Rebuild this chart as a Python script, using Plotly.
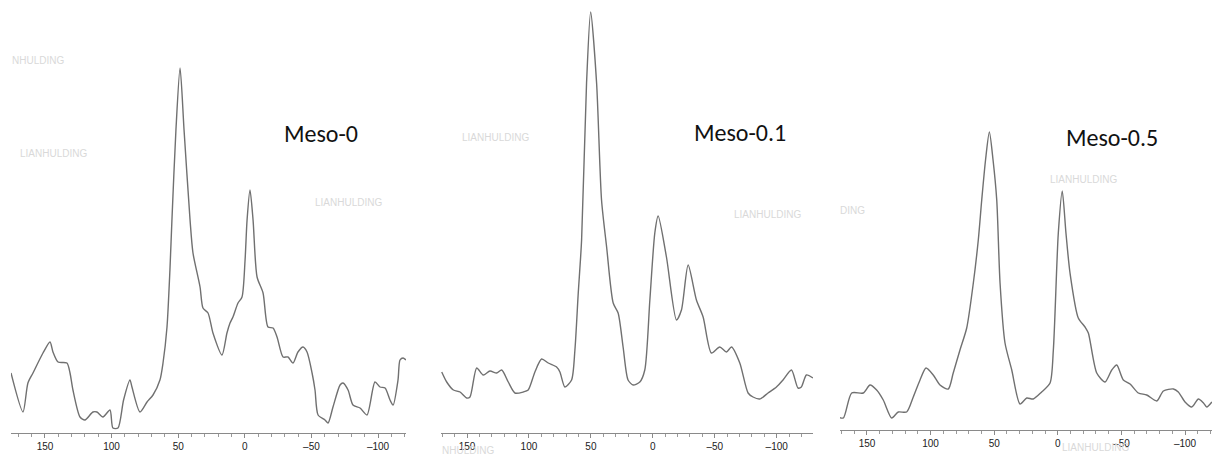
import plotly.graph_objects as go

W, H = 1212, 461

# ---- data (chemical shift in ppm, intensity in arbitrary units) ----
meso0_ppm = [175.5, 166.5, 162.8, 159, 151.5, 146.2, 144, 140.2, 133.5, 131.2, 129, 123.7, 120, 114, 111,
             106.5, 101.2, 99, 95.2, 91, 86.2, 84.7, 78.7, 73.4, 68.9, 63.7, 61.4, 58.4, 56.2, 54.7, 51.7,
             48.6, 45.6, 41.1, 38.9, 33.6, 31.4, 27.6, 23.9, 17.1, 13.4, 11.1, 8.9, 5.1, 2.1, -0.2, -1.7,
             -3.9, -6.2, -9.2, -13.7, -17.4, -21.2, -24.2, -28.7, -32.4, -36.2, -39.9, -43.7, -46.7, -50.5,
             -52.7, -55, -60.2, -62.5, -66.2, -71.5, -73.7, -77.5, -81.2, -86.5, -91.7, -97.7, -101.5,
             -105.3, -109, -111.3, -115, -116.5, -118.8, -121]
meso0_int = [60, 21, 50, 60, 80, 91, 81, 71, 70, 60, 43, 16, 13, 21, 21,
             16, 23, 5, 5, 33, 53, 46, 21, 31, 38, 53, 70, 106, 163, 213, 303,
             365, 303, 213, 180, 146, 125, 120, 100, 78, 100, 110, 116, 130, 136, 173, 213,
             243, 213, 156, 140, 106, 105, 96, 76, 76, 70, 81, 86, 81, 60,
             43, 18, 13, 10, 26, 48, 50, 43, 28, 25, 18, 51, 46,
             45, 33, 28, 53, 73, 75, 73]

meso01_ppm = [170.4, 166.4, 161, 155.6, 150.2, 147.6, 142.2, 136.9, 131.5, 126.1, 122, 116.7, 111.3, 104.6,
              100.6, 95.2, 89.8, 84.4, 77.7, 75, 71, 65.6, 62.9, 60.2, 57.5, 53.5, 50.2, 45.4, 41.4, 37.3,
              32, 28, 24, 20, 15.9, 10.5, 6.5, 2.4, -1.6, -4.3, -11, -19.1, -23.1, -28.5, -35.2, -40.6,
              -47.3, -54, -59.4, -63.5, -70.2, -76.9, -80.9, -86.3, -93, -99.8, -105.1, -111.9, -117.2,
              -119.9, -124, -129.3]
meso01_int = [61, 51, 43, 41, 35, 36, 65, 58, 62, 60, 63, 51, 40, 41,
              43, 61, 74, 70, 66, 61, 46, 53, 83, 140, 193, 350, 421, 350, 233, 186,
              130, 120, 86, 53, 48, 51, 63, 133, 200, 217, 176, 113, 123, 168, 133, 116,
              80, 86, 81, 86, 70, 40, 36, 34, 40, 46, 53, 63, 45,
              46, 58, 55]

meso05_ppm = [172.6, 168.6, 162, 152.9, 147.6, 142.4, 137.2, 130.6, 125.4, 118.8, 113.6, 108.3, 103.6, 97.9,
              92.6, 86.1, 82.2, 76.9, 71.6, 66.4, 62.5, 59.8, 56.8, 53.8, 50.9, 48, 45.4, 41.5, 36.2, 29.7,
              24.4, 19.3, 12.7, 6.1, 3.5, -0.4, -3.5, -6.4, -9.6, -16.1, -21.4, -24, -30.6, -37.1, -42.4,
              -46.3, -51.5, -56.8, -63.3, -69.9, -77.8, -83, -90.9, -94.7, -100, -105.3, -110.5, -114.5,
              -117.1, -121.1]
meso05_int = [13, 12, 37, 37, 45, 40, 30, 12, 18, 18, 33, 50, 62, 55,
              45, 41, 57, 80, 102, 147, 190, 230, 270, 298, 270, 230, 147, 87, 60, 26,
              32, 31, 38, 47, 80, 197, 239, 197, 157, 112, 103, 97, 57, 48, 60,
              65, 50, 46, 37, 35, 29, 39, 41, 38, 28, 23, 31, 27,
              23, 28]

labels = ["Meso-0", "Meso-0.1", "Meso-0.5"]
tick_vals = [150, 100, 50, 0, -50, -100]
tick_text = ["150", "100", "50", "0", "\u201350", "\u2013100"]

# ---- layout geometry (pixels) ----
panels = [
    dict(x0=11, x1=406, bottom=433, xr=[175.5, -121], x=meso0_ppm, y=meso0_int),
    dict(x0=441, x1=813, bottom=433, xr=[171, -129.3], x=meso01_ppm, y=meso01_int),
    dict(x0=840, x1=1212, bottom=430, xr=[171.2, -121.2], x=meso05_ppm, y=meso05_int),
]

fig = go.Figure()
layout = dict(width=W, height=H, margin=dict(l=0, r=0, t=0, b=0),
              paper_bgcolor="white", plot_bgcolor="white", showlegend=False)

for i, p in enumerate(panels):
    n = "" if i == 0 else str(i + 1)
    fig.add_trace(go.Scatter(x=p["x"], y=p["y"], mode="lines",
                             line=dict(color="#707070", width=1.4, shape="spline", smoothing=0.7),
                             xaxis="x" + n, yaxis="y" + n, hoverinfo="skip"))
    layout["xaxis" + n] = dict(
        domain=[p["x0"] / W, p["x1"] / W], range=p["xr"], anchor="y" + n,
        showgrid=False, zeroline=False, showline=True, linecolor="#8a8a8a", linewidth=1,
        tickmode="array", tickvals=tick_vals, ticktext=tick_text,
        ticks="outside", ticklen=4, tickcolor="#8a8a8a", tickwidth=1,
        minor=dict(dtick=10, tick0=0, ticks="outside", ticklen=3, tickcolor="#9a9a9a"),
        tickfont=dict(family="Arial, Liberation Sans, sans-serif", size=10, color="#222222"),
    )
    layout["yaxis" + n] = dict(
        domain=[(H - p["bottom"]) / H, 1], range=[0, p["bottom"]], anchor="x" + n,
        visible=False, showgrid=False, zeroline=False,
    )

fig.update_layout(**layout)

def px_ann(text, x, y, size, color, family, anchor="left"):
    fig.add_annotation(text=text, x=x / W, y=1 - y / H, xref="paper", yref="paper",
                       xanchor=anchor, yanchor="middle", showarrow=False,
                       font=dict(family=family, size=size, color=color))

label_font = "Carlito, Open Sans, Lato, sans-serif"
px_ann(labels[0], 282, 133, 24, "#111111", label_font)
px_ann(labels[1], 692, 132, 24, "#111111", label_font)
px_ann(labels[2], 1064, 137, 24, "#111111", label_font)

wm_font = "Liberation Sans Narrow, Arial Narrow, sans-serif"
wm_color = "#d9d9d9"
for t, x, y in [("NHULDING", 10, 60), ("LIANHULDING", 18, 153), ("LIANHULDING", 313, 202),
                ("LIANHULDING", 460, 137), ("LIANHULDING", 732, 214),
                ("LIANHULDING", 1048, 180), ("DING", 838, 210),
                ("NHULDING", 440, 450), ("LIANHULDING", 1060, 447)]:
    px_ann(t, x, y, 10, wm_color, wm_font)

fig.write_html("out.html",
               config={"displayModeBar": False, "staticPlot": True},
               post_script="document.body.style.margin='0';document.body.style.overflow='hidden';")
